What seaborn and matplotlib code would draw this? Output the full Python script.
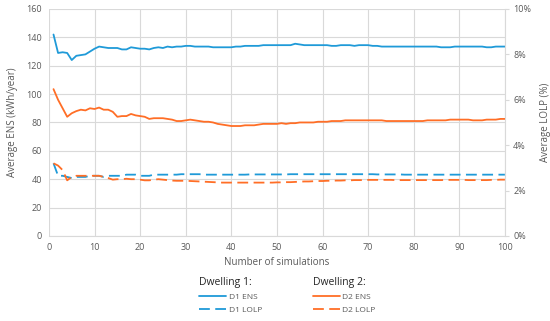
import numpy as np
import pandas as pd
import matplotlib.pyplot as plt
import seaborn as sns
from matplotlib.lines import Line2D

# Data
sims = list(range(1, 101))

d1_ens = [142, 129, 129.5, 129, 124, 127, 127.5, 128, 130, 132,
          133.5, 133, 132.5, 132.5, 132.5, 131.5, 131.5, 133, 132.5, 132,
          132, 131.5, 132.5, 133, 132.5, 133.5, 133, 133.5, 133.5, 134,
          134, 133.5, 133.5, 133.5, 133.5, 133, 133, 133, 133, 133,
          133.5, 133.5, 134, 134, 134, 134, 134.5, 134.5, 134.5, 134.5,
          134.5, 134.5, 134.5, 135.5, 135, 134.5, 134.5, 134.5, 134.5, 134.5,
          134.5, 134, 134, 134.5, 134.5, 134.5, 134, 134.5, 134.5, 134.5,
          134, 134, 133.5, 133.5, 133.5, 133.5, 133.5, 133.5, 133.5, 133.5,
          133.5, 133.5, 133.5, 133.5, 133.5, 133, 133, 133, 133.5, 133.5,
          133.5, 133.5, 133.5, 133.5, 133.5, 133, 133, 133.5, 133.5, 133.5]

d2_ens = [103.5, 96, 90, 84, 86.5, 88, 89, 88.5, 90, 89.5,
          90.5, 89, 89, 87.5, 84, 84.5, 84.5, 86, 85, 84.5,
          84, 82.5, 83, 83, 83, 82.5, 82, 81, 81, 81.5,
          82, 81.5, 81, 80.5, 80.5, 80, 79, 78.5, 78, 77.5,
          77.5, 77.5, 78, 78, 78, 78.5, 79, 79, 79, 79,
          79.5, 79, 79.5, 79.5, 80, 80, 80, 80, 80.5, 80.5,
          80.5, 81, 81, 81, 81.5, 81.5, 81.5, 81.5, 81.5, 81.5,
          81.5, 81.5, 81.5, 81, 81, 81, 81, 81, 81, 81,
          81, 81, 81.5, 81.5, 81.5, 81.5, 81.5, 82, 82, 82,
          82, 82, 81.5, 81.5, 81.5, 82, 82, 82, 82.5, 82.5]

d1_lolp = [3.2, 2.65, 2.65, 2.6, 2.55, 2.6, 2.6, 2.6, 2.65, 2.65,
           2.65, 2.6, 2.65, 2.65, 2.65, 2.65, 2.7, 2.7, 2.7, 2.65,
           2.65, 2.65, 2.7, 2.7, 2.7, 2.7, 2.7, 2.7, 2.72, 2.72,
           2.72, 2.72, 2.72, 2.7, 2.7, 2.7, 2.7, 2.7, 2.7, 2.7,
           2.7, 2.7, 2.7, 2.71, 2.71, 2.71, 2.71, 2.71, 2.71, 2.71,
           2.71, 2.71, 2.72, 2.72, 2.72, 2.72, 2.72, 2.72, 2.72, 2.72,
           2.72, 2.72, 2.72, 2.72, 2.72, 2.72, 2.72, 2.72, 2.72, 2.72,
           2.72, 2.71, 2.71, 2.71, 2.71, 2.71, 2.71, 2.7, 2.7, 2.7,
           2.7, 2.7, 2.7, 2.7, 2.7, 2.7, 2.7, 2.7, 2.7, 2.7,
           2.7, 2.7, 2.7, 2.7, 2.7, 2.7, 2.7, 2.7, 2.7, 2.7]

d2_lolp = [3.2, 3.1, 2.9, 2.45, 2.6, 2.65, 2.65, 2.65, 2.65, 2.65,
           2.65, 2.6, 2.55, 2.48, 2.5, 2.5, 2.52, 2.5, 2.5, 2.48,
           2.45, 2.45, 2.48, 2.5, 2.48, 2.46, 2.44, 2.43, 2.43, 2.43,
           2.42, 2.41, 2.4, 2.39, 2.38, 2.37, 2.36, 2.35, 2.35, 2.35,
           2.35, 2.35, 2.35, 2.35, 2.35, 2.35, 2.35, 2.35, 2.35, 2.36,
           2.36, 2.37, 2.37, 2.38, 2.39, 2.4, 2.4, 2.41, 2.42, 2.42,
           2.43, 2.43, 2.44, 2.44, 2.45, 2.45, 2.46, 2.46, 2.46, 2.47,
           2.47, 2.47, 2.47, 2.47, 2.47, 2.46, 2.46, 2.46, 2.46, 2.46,
           2.46, 2.46, 2.46, 2.46, 2.46, 2.46, 2.47, 2.47, 2.47, 2.47,
           2.47, 2.46, 2.46, 2.46, 2.46, 2.46, 2.47, 2.47, 2.48, 2.48]

df = pd.DataFrame({'sims': sims, 'D1 ENS': d1_ens, 'D2 ENS': d2_ens,
                   'D1 LOLP': d1_lolp, 'D2 LOLP': d2_lolp})

blue = '#1f9ad8'
orange = '#ff6e26'
grid_c = '#d9d9d9'
text_c = '#595959'

sns.set_style('white')
plt.rcParams['font.family'] = ['Open Sans', 'DejaVu Sans']

fig = plt.figure(figsize=(5.5, 3.21), dpi=100)
ax = fig.add_axes([0.089, 0.265, 0.829, 0.707])
ax2 = ax.twinx()

sns.lineplot(data=df, x='sims', y='D1 ENS', color=blue, lw=1.3, ax=ax)
sns.lineplot(data=df, x='sims', y='D2 ENS', color=orange, lw=1.3, ax=ax)
sns.lineplot(data=df, x='sims', y='D1 LOLP', color=blue, lw=1.3, ax=ax2, dashes=False)
sns.lineplot(data=df, x='sims', y='D2 LOLP', color=orange, lw=1.3, ax=ax2, dashes=False)
for ln in ax2.get_lines():
    ln.set_dashes((6, 3))

ax.set_xlim(0, 100)
ax.set_ylim(0, 160)
ax2.set_ylim(0, 10)
ax.set_xticks(range(0, 101, 10))
ax.set_yticks(range(0, 161, 20))
ax2.set_yticks(range(0, 11, 2))
ax2.set_yticklabels([f'{v}%' for v in range(0, 11, 2)])

ax.grid(True, color=grid_c, lw=0.8)
ax.set_axisbelow(True)
for a in (ax, ax2):
    for s in a.spines.values():
        s.set_visible(False)
ax2.spines['right'].set_visible(True)
ax2.spines['right'].set_color(grid_c)
ax.spines['bottom'].set_visible(True)
ax.spines['bottom'].set_color(grid_c)

ax.tick_params(axis='both', length=0, labelsize=6.5, labelcolor=text_c, pad=5)
ax2.tick_params(axis='y', length=3, color=grid_c, labelsize=6.5, labelcolor=text_c, pad=3)

ax.set_xlabel('Number of simulations', fontsize=7, color=text_c, labelpad=4)
ax.set_ylabel('Average ENS (kWh/year)', fontsize=7, color=text_c, labelpad=6)
ax2.set_ylabel('Average LOLP (%)', fontsize=7, color=text_c, labelpad=6)

h1 = [Line2D([], [], color=blue, lw=1.3), Line2D([], [], color=blue, lw=1.3, dashes=(6, 3))]
h2 = [Line2D([], [], color=orange, lw=1.3), Line2D([], [], color=orange, lw=1.3, dashes=(6, 3))]
for handles, labels, title, xpos in [(h1, ['D1 ENS', 'D1 LOLP'], 'Dwelling 1:', 0.355),
                                     (h2, ['D2 ENS', 'D2 LOLP'], 'Dwelling 2:', 0.562)]:
    leg = fig.legend(handles, labels, title=title, loc='upper left',
                     bbox_to_anchor=(xpos, 0.15), frameon=False, fontsize=6,
                     title_fontsize=7.5, handlelength=3.2, handletextpad=0.3,
                     labelspacing=0.6, borderpad=0, alignment='left')
    for t in leg.get_texts():
        t.set_color(text_c)
    leg.get_title().set_color('#262626')

fig.savefig('out.png', dpi=100)
